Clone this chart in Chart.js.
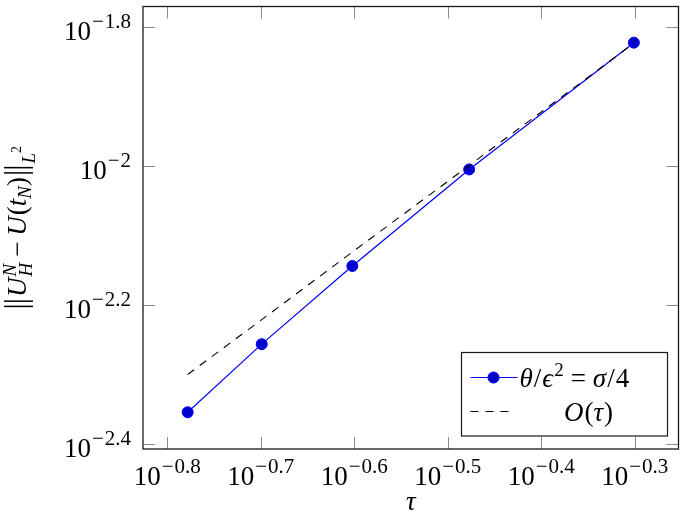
<!DOCTYPE html>
<html>
<head>
<meta charset="utf-8">
<script src="https://cdn.jsdelivr.net/npm/chart.js@4.4.1/dist/chart.umd.min.js"></script>
<style>
  html, body { margin:0; padding:0; background:#fff; }
  #wrap { width:685px; height:515px; }
</style>
</head>
<body>
<div id="wrap"><canvas id="c" width="685" height="515"></canvas></div>
<script>
/* ── data ──────────────────────────────────────────────── */
const tau      = [1/6, 1/5, 1/4, 1/3, 1/2];
const errL2    = [0.00442, 0.00554, 0.00718, 0.00989, 0.01506];   // θ/ϵ² = σ/4
const refOrder = [0.00501, 0.00601, 0.00752, 0.01002, 0.01503];   // O(τ) guide
const xTickExp = [-0.8, -0.7, -0.6, -0.5, -0.4, -0.3];
const yTickExp = [-1.8, -2.0, -2.2, -2.4];
const xLimExp  = [-0.8259, -0.2533];
const yLimExp  = [-2.4075, -1.7701];

const SERIF = '"Liberation Serif", "DejaVu Serif", serif';
const FS = 27;

/* ── tiny rich-text helper for sub/superscripts ─────────── */
function setFont(ctx, s) {
  ctx.font = (s.it ? 'italic ' : '') + Math.round(FS * (s.sz || 1)) + 'px ' + SERIF;
}
function segWidth(ctx, s) {
  if (s.stack) return Math.max(...s.stack.map(q => segWidth(ctx, q)));
  setFont(ctx, s);
  return ctx.measureText(s.t).width + (s.pad || 0);
}
function runWidth(ctx, segs) {
  return segs.reduce((w, s) => w + segWidth(ctx, s), 0);
}
function drawRun(ctx, segs, x, y) {
  ctx.textBaseline = 'alphabetic';
  ctx.textAlign = 'left';
  for (const s of segs) {
    if (s.stack) {
      s.stack.forEach(q => { setFont(ctx, q); ctx.fillText(q.t, x, y + (q.dy || 0)); });
    } else {
      setFont(ctx, s);
      ctx.fillText(s.t, x + (s.lead || 0), y + (s.dy || 0));
    }
    x += segWidth(ctx, s);
  }
  return x;
}
function powSegs(e) {
  const a = Math.abs(e).toFixed(1).replace(/\.0$/, '');
  return [
    { t:'10', pad:1 },
    { t:'−', sz:0.78, dy:-12, pad:1 },
    { t:a, sz:0.78, dy:-12 },
  ];
}

/* ── frame, inner ticks, labels, legend ─────────────────── */
const decor = {
  id: 'decor',
  afterDraw(chart) {
    const ctx = chart.ctx;
    const a = chart.chartArea;
    const xs = chart.scales.x, ys = chart.scales.y;
    ctx.save();

    // inner ticks on all four sides
    ctx.strokeStyle = '#8a8a8a';
    ctx.lineWidth = 1;
    const TL = 12;
    ctx.beginPath();
    xTickExp.forEach(e => {
      const px = Math.round(xs.getPixelForValue(Math.pow(10, e))) + 0.5;
      ctx.moveTo(px, a.bottom); ctx.lineTo(px, a.bottom - TL);
      ctx.moveTo(px, a.top);    ctx.lineTo(px, a.top + TL);
    });
    yTickExp.forEach(e => {
      const py = Math.round(ys.getPixelForValue(Math.pow(10, e))) + 0.5;
      ctx.moveTo(a.left, py);  ctx.lineTo(a.left + TL, py);
      ctx.moveTo(a.right, py); ctx.lineTo(a.right - TL, py);
    });
    ctx.stroke();

    // frame
    ctx.strokeStyle = '#1a1a1a';
    ctx.lineWidth = 1.3;
    ctx.strokeRect(a.left, a.top, a.right - a.left, a.bottom - a.top);

    // tick labels
    ctx.fillStyle = '#000';
    xTickExp.forEach(e => {
      const px = xs.getPixelForValue(Math.pow(10, e));
      const segs = powSegs(e);
      drawRun(ctx, segs, px - runWidth(ctx, segs) / 2, a.bottom + 36);
    });
    yTickExp.forEach(e => {
      const py = ys.getPixelForValue(Math.pow(10, e));
      const segs = powSegs(e);
      drawRun(ctx, segs, a.left - 12 - runWidth(ctx, segs), py + 13);
    });

    // x axis title
    const xt = [{ t:'τ', it:1 }];
    drawRun(ctx, xt, (a.left + a.right) / 2 - runWidth(ctx, xt) / 2, 510);

    // y axis title (rotated)
    const bar = { t:'|', sz:1.15, pad:-1 };
    const yt = [
      bar, { t:'|', sz:1.15, pad:1 }, { t:'U', it:1, pad:1 },
      { stack:[ { t:'N', it:1, sz:0.7, dy:-10 }, { t:'H', it:1, sz:0.7, dy:6 } ] },
      { t:'−', lead:6, pad:12 }, { t:'U', it:1, pad:1 }, { t:'(' }, { t:'t', it:1 },
      { t:'N', it:1, sz:0.7, dy:5 }, { t:')', pad:1 }, bar, { t:'|', sz:1.15, pad:1 },
      { t:'L', it:1, sz:0.7, dy:9 }, { t:'2', sz:0.5, dy:-5 },
    ];
    ctx.save();
    ctx.translate(26, (a.top + a.bottom) / 2);
    ctx.rotate(-Math.PI / 2);
    drawRun(ctx, yt, -runWidth(ctx, yt) / 2, 0);
    ctx.restore();

    // legend
    const L = { x:461.5, y:352.5, w:206, h:83.5 };
    ctx.fillStyle = '#fff';
    ctx.fillRect(L.x, L.y, L.w, L.h);
    ctx.strokeStyle = '#1a1a1a';
    ctx.lineWidth = 1.2;
    ctx.strokeRect(L.x, L.y, L.w, L.h);

    const d0 = chart.data.datasets[0], d1 = chart.data.datasets[1];
    const r1 = L.y + 25, r2 = L.y + 59;
    ctx.strokeStyle = d0.borderColor; ctx.lineWidth = d0.borderWidth;
    ctx.beginPath(); ctx.moveTo(L.x + 9, r1); ctx.lineTo(L.x + 56, r1); ctx.stroke();
    ctx.beginPath(); ctx.arc(L.x + 32, r1, d0.pointRadius, 0, Math.PI * 2);
    ctx.fillStyle = d0.pointBackgroundColor; ctx.fill();
    ctx.strokeStyle = d0.pointBorderColor; ctx.lineWidth = d0.pointBorderWidth; ctx.stroke();

    ctx.strokeStyle = d1.borderColor; ctx.lineWidth = d1.borderWidth;
    ctx.setLineDash(d1.borderDash);
    ctx.beginPath(); ctx.moveTo(L.x + 9, r2); ctx.lineTo(L.x + 50, r2); ctx.stroke();
    ctx.setLineDash([]);

    ctx.fillStyle = '#000';
    const lg1 = [
      { t:'θ', it:1, pad:1 }, { t:'/', pad:1 }, { t:'ϵ', it:1, pad:1 }, { t:'2', sz:0.7, dy:-11 },
      { t:'=', lead:7, pad:14 }, { t:'σ', it:1, pad:1 }, { t:'/', pad:1 }, { t:'4' },
    ];
    drawRun(ctx, lg1, L.x + 58, r1 + 9);
    const lg2 = [ { t:'O', it:1, pad:1 }, { t:'(' }, { t:'τ', it:1, pad:1 }, { t:')' } ];
    drawRun(ctx, lg2, L.x + 127 - runWidth(ctx, lg2) / 2, r2 + 9);

    ctx.restore();
  }
};

/* ── chart ──────────────────────────────────────────────── */
const points = ys => tau.map((t, i) => ({ x:t, y:ys[i] }));

new Chart(document.getElementById('c').getContext('2d'), {
  type: 'scatter',
  data: {
    datasets: [
      {
        label: 'θ/ϵ² = σ/4', data: points(errL2), showLine: true,
        borderColor: '#0000ff', borderWidth: 1.2,
        pointRadius: 5.5, pointBackgroundColor: '#0000cc',
        pointBorderColor: '#0000ff', pointBorderWidth: 1, order: 1,
      },
      {
        label: 'O(τ)', data: points(refOrder), showLine: true,
        borderColor: '#000', borderWidth: 1.1, borderDash: [8, 7],
        pointRadius: 0, order: 0,
      },
    ],
  },
  options: {
    responsive: false, animation: false, devicePixelRatio: 1,
    layout: { padding: { top: 1, right: 4, left: 0, bottom: 0 } },
    plugins: { legend: { display: false }, tooltip: { enabled: false } },
    scales: {
      x: {
        type: 'logarithmic',
        min: Math.pow(10, xLimExp[0]), max: Math.pow(10, xLimExp[1]),
        ticks: { display: false }, grid: { display: false }, border: { display: false },
        afterFit: s => { s.height = 66; },
      },
      y: {
        type: 'logarithmic',
        min: Math.pow(10, yLimExp[0]), max: Math.pow(10, yLimExp[1]),
        ticks: { display: false }, grid: { display: false }, border: { display: false },
        afterFit: s => { s.width = 143; },
      },
    },
  },
  plugins: [decor],
});
</script>
</body>
</html>
